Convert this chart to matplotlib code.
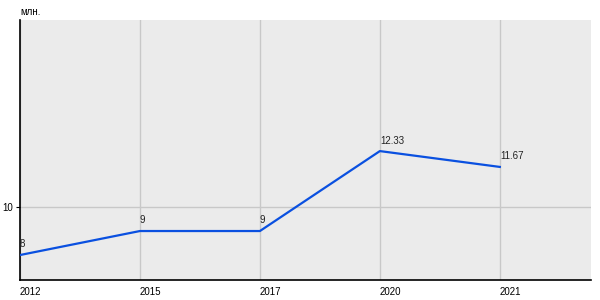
import matplotlib.pyplot as plt

years = ['2012', '2015', '2017', '2020', '2021']
values = [8, 9, 9, 12.33, 11.67]
point_labels = ['8', '9', '9', '12.33', '11.67']

plt.rcParams['font.family'] = ['Liberation Sans', 'DejaVu Sans']

fig = plt.figure(figsize=(6, 3), dpi=100)
ax = fig.add_axes([20/600, 20/300, 571/600, 260/300])
ax.set_facecolor('#ebebeb')

x = list(range(len(years)))
ax.plot(x, values, color='#0a50e0', linewidth=1.6, zorder=3)
for xi, v, lab in zip(x, values, point_labels):
    ax.annotate(lab, (xi, v), xytext=(0, 4), textcoords='offset points',
                ha='left', va='bottom', fontsize=7, color='#222222')

ax.set_xlim(0, 4.76)
ax.set_ylim(6.96, 17.79)
ax.set_xticks(x)
ax.set_xticklabels(years, ha='left', fontsize=7)
ax.set_yticks([10])
ax.set_yticklabels(['10'], fontsize=7)
ax.tick_params(axis='x', length=0, pad=5)
ax.tick_params(axis='y', length=3, pad=2)
ax.grid(True, color='#c8c8c8', linewidth=1)
ax.set_axisbelow(True)
for s in ['top', 'right']:
    ax.spines[s].set_visible(False)
ax.spines['left'].set_linewidth(1.2)
ax.spines['bottom'].set_linewidth(1.2)

fig.text(20/600, 1 - 12/300, 'млн.', fontsize=7, ha='left', va='center')

fig.savefig('out.png', dpi=100)
